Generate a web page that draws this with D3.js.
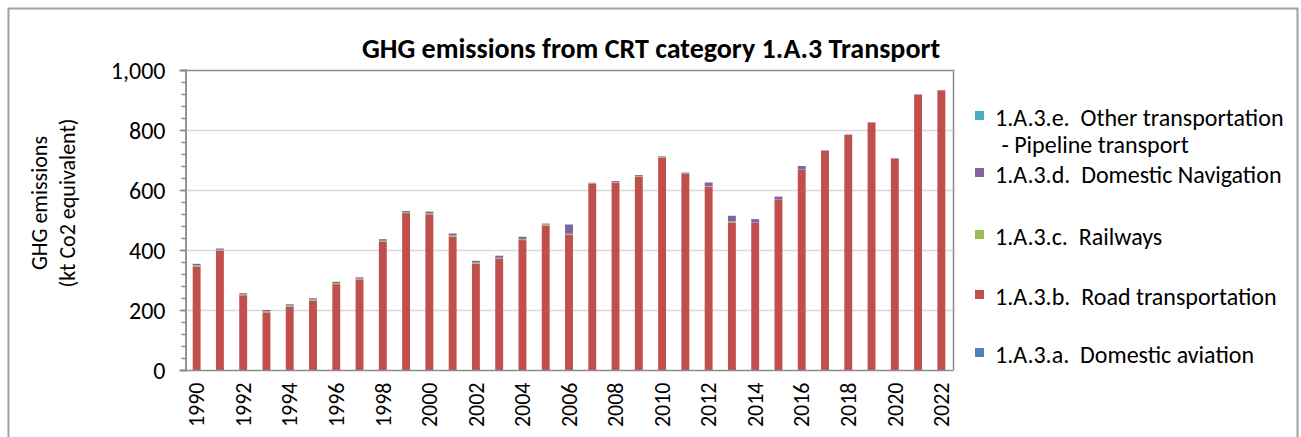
<!DOCTYPE html>
<html>
<head>
<meta charset="utf-8">
<script src="https://cdn.jsdelivr.net/npm/d3@7"></script>
<style>
  body { margin: 0; background: #fff; }
  svg text { font-family: Carlito, Lato, "Liberation Sans", sans-serif; fill: #000; }
</style>
</head>
<body>
<div id="chart"></div>
<script>
const years = d3.range(1990, 2023)

// kt CO2 eq
const aviation = years.map(() => 0)
const road = [344, 398, 249, 192, 211, 231, 286, 302, 427, 523, 519, 444, 354, 370, 433, 481, 451,
    620, 625, 644, 707, 655, 611, 492, 490, 567, 667, 731, 784, 825, 705, 918, 932]
const railways = [5, 3, 3, 4, 4, 4, 4, 3, 4, 3, 4, 4, 4, 4, 4, 4, 3,
    3, 2, 3, 3, 1, 2, 4, 1, 1, 1, 0, 0, 0, 0, 0, 0]
const navigation = [5, 4, 4, 4, 4, 4, 4, 4, 5, 4, 5, 7, 6, 7, 7, 3, 31,
    1, 3, 3, 2, 2, 12, 18, 12, 10, 12, 1, 1, 1, 1, 1, 1]
const other = years.map(() => 0)

const seriesKeys = ['aviation', 'road', 'railways', 'navigation', 'other']
const seriesNames = {
    aviation: ['1.A.3.a.  Domestic aviation'],
    road: ['1.A.3.b.  Road transportation'],
    railways: ['1.A.3.c.  Railways'],
    navigation: ['1.A.3.d.  Domestic Navigation'],
    other: ['1.A.3.e.  Other transportation', ' - Pipeline transport']
}
const colors = { aviation: '#4f81bd', road: '#c0504d', railways: '#9bbb59', navigation: '#8064a2', other: '#4bacc6' }
const yTicks = [0, 200, 400, 600, 800, 1000]

const width = 1301, height = 437
const plot = { left: 185, right: 953, top: 70, bottom: 370 }

const svg = d3.select('#chart').append('svg')
    .attr('width', width)
    .attr('height', height)

// outer chart frame
svg.append('rect')
    .attr('x', 8.5).attr('y', 8.5)
    .attr('width', 1289).attr('height', 440)
    .attr('fill', 'none').attr('stroke', '#a0a0a0').attr('stroke-width', 2)

const table = years.map((y, i) => ({
    year: y, aviation: aviation[i], road: road[i], railways: railways[i], navigation: navigation[i], other: other[i]
}))
const stacked = d3.stack().keys(seriesKeys)(table)

const x = d3.scaleBand().domain(years).range([plot.left, plot.right]).paddingInner(0.66).paddingOuter(0.33)
const y = d3.scaleLinear().domain([0, 1000]).range([plot.bottom, plot.top])

// gridlines
svg.append('g').selectAll('line').data(yTicks.filter(d => d > 0 && d < 1000)).enter().append('line')
    .attr('x1', plot.left).attr('x2', plot.right)
    .attr('y1', d => y(d) + 0.5).attr('y2', d => y(d) + 0.5)
    .attr('stroke', '#d9d9d9').attr('stroke-width', 1.5)

// plot frame top + right
svg.append('path')
    .attr('d', `M${plot.left},${y(1000) + 0.5}H${plot.right + 0.5}V${plot.bottom}`)
    .attr('fill', 'none').attr('stroke', '#8c8c8c').attr('stroke-width', 1.5)

// bars
svg.append('g').selectAll('g').data(stacked).enter().append('g')
    .attr('fill', d => colors[d.key])
    .selectAll('rect').data(d => d).enter().append('rect')
    .attr('x', d => x(d.data.year))
    .attr('width', x.bandwidth())
    .attr('y', d => y(d[1]))
    .attr('height', d => y(d[0]) - y(d[1]))

// y axis with minor ticks
const yAxis = d3.axisLeft(y).tickValues(yTicks).tickSize(6).tickFormat(d3.format(','))
const yMinor = d3.axisLeft(y).tickValues(d3.range(0, 1001, 40)).tickSize(4).tickFormat('')
svg.append('g').attr('transform', `translate(${plot.left + 0.5},0)`).call(yMinor)
    .call(g => g.selectAll('line,path').attr('stroke', '#8c8c8c').attr('stroke-width', 1.5))
const ya = svg.append('g').attr('transform', `translate(${plot.left + 0.5},0)`).call(yAxis)
ya.selectAll('line,path').attr('stroke', '#8c8c8c').attr('stroke-width', 1.5)
ya.selectAll('text').attr('x', -20).attr('dy', '0.35em').style('font-size', '24px')
    .style('font-family', 'Carlito, Lato, sans-serif')

// x axis
const xAxis = d3.axisBottom(x).tickValues(years.filter(d => d % 2 === 0)).tickSize(0)
const xa = svg.append('g').attr('transform', `translate(0,${plot.bottom + 0.5})`).call(xAxis)
xa.select('.domain').attr('stroke', '#8c8c8c').attr('stroke-width', 1.5)
    .attr('d', `M${plot.left},0H${plot.right + 0.5}`)
xa.selectAll('text')
    .attr('transform', 'rotate(-90)')
    .attr('x', -12).attr('y', 0).attr('dy', '0.35em')
    .attr('text-anchor', 'end')
    .style('font-size', '22px').style('font-family', 'Carlito, Lato, sans-serif')

// title
svg.append('text')
    .attr('x', 651).attr('y', 58)
    .attr('text-anchor', 'middle')
    .style('font-size', '28px').style('font-weight', 'bold')
    .text('GHG emissions from CRT category 1.A.3 Transport')

// y title
const yt = svg.append('text')
    .attr('transform', 'translate(0,203) rotate(-90)')
    .attr('text-anchor', 'middle')
    .style('font-size', '22px')
yt.append('tspan').attr('x', 0).attr('y', 47).text('GHG emissions')
yt.append('tspan').attr('x', 0).attr('y', 75).text('(kt Co2 equivalent)')

// legend, top entry first
const legendY = { other: 118, navigation: 175, railways: 237, road: 297, aviation: 355 }
const lg = svg.append('g').selectAll('g').data(seriesKeys.slice().reverse()).enter().append('g')
    .attr('transform', d => `translate(975,${legendY[d]})`)
lg.append('rect').attr('x', 0).attr('y', -7).attr('width', 9).attr('height', 9)
    .attr('fill', d => colors[d])
lg.append('text')
    .style('font-size', '24px')
    .selectAll('tspan').data(d => seriesNames[d]).enter().append('tspan')
    .attr('x', (d, i) => i === 0 ? 20 : 21)
    .attr('y', (d, i) => i * 27)
    .attr('dy', '0.35em')
    .attr('xml:space', 'preserve')
    .style('white-space', 'pre')
    .text(d => d)
</script>
</body>
</html>
